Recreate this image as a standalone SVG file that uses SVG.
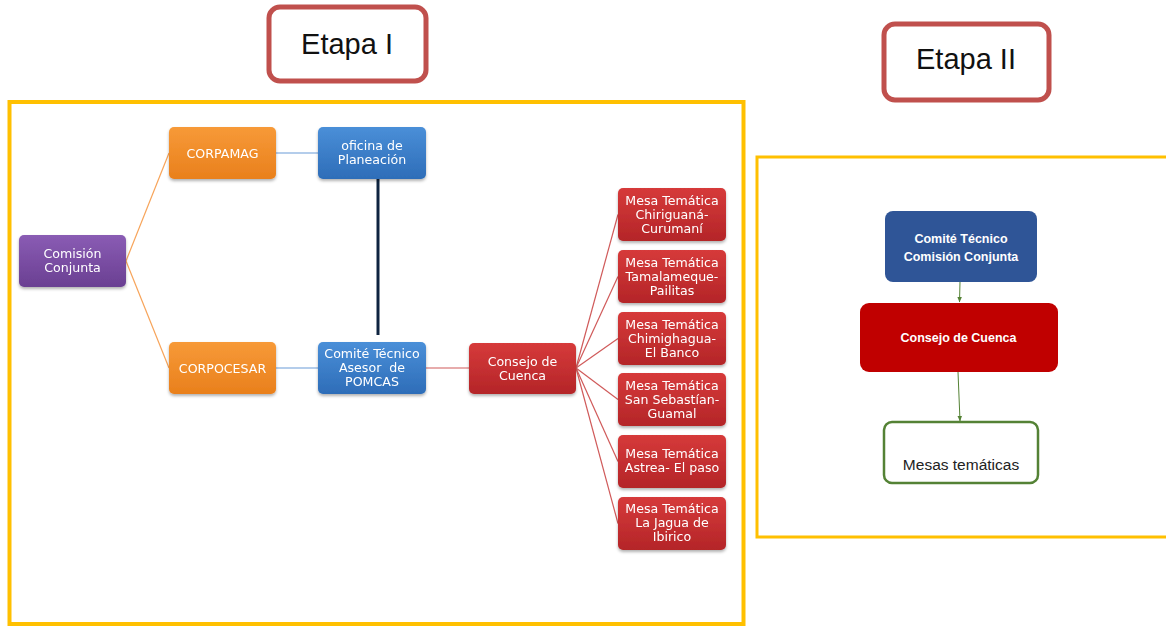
<svg xmlns="http://www.w3.org/2000/svg" width="1166" height="627" viewBox="0 0 1166 627">
<defs>
<linearGradient id="gPur" x1="0" y1="0" x2="0" y2="1"><stop offset="0" stop-color="#8A5CB4"/><stop offset="1" stop-color="#6A3F92"/></linearGradient>
<linearGradient id="gOr" x1="0" y1="0" x2="0" y2="1"><stop offset="0" stop-color="#F79A38"/><stop offset="1" stop-color="#E9801C"/></linearGradient>
<linearGradient id="gBl" x1="0" y1="0" x2="0" y2="1"><stop offset="0" stop-color="#4A8FD8"/><stop offset="1" stop-color="#2E6DB8"/></linearGradient>
<linearGradient id="gRd" x1="0" y1="0" x2="0" y2="1"><stop offset="0" stop-color="#D63A3A"/><stop offset="1" stop-color="#B42528"/></linearGradient>
<filter id="sh" x="-10%" y="-10%" width="120%" height="130%"><feDropShadow dx="0" dy="2" stdDeviation="1.5" flood-color="#000" flood-opacity="0.3"/></filter>
<marker id="arr" viewBox="0 0 10 10" refX="9" refY="5" markerWidth="6" markerHeight="6" orient="auto"><path d="M0,1 L10,5 L0,9 z" fill="#548235"/></marker>
</defs>
<style>
.frame{fill:none;stroke:#FFC000}
.etapa{fill:#fff;stroke:#C0504D;stroke-width:5}
.etxt{font-family:"Liberation Sans",Arial,sans-serif;font-size:29px;fill:#111;text-anchor:middle}
.n{filter:url(#sh)}
.t{font-family:"DejaVu Sans",Verdana,sans-serif;font-size:12.6px;fill:#fff;text-anchor:middle}
.t2{font-family:"Liberation Sans",Arial,sans-serif;font-size:12.5px;font-weight:bold;fill:#fff;text-anchor:middle}
.c{fill:none;stroke-width:1.2}
</style>
<rect width="1166" height="627" fill="#fff"/>
<rect class="frame" x="9.5" y="102" width="734" height="522" stroke-width="4"/>
<path class="frame" d="M1166,157 L757,157 L757,537 L1166,537" stroke-width="3"/>
<g id="etapa1"><rect class="etapa" x="269" y="7" width="157" height="74" rx="11"/><text class="etxt" x="347" y="54">Etapa I</text></g>
<g id="etapa2"><rect class="etapa" x="884" y="24" width="165" height="76" rx="11"/><text class="etxt" x="966" y="69">Etapa II</text></g>
<g id="connectors">
<line class="c" x1="126" y1="261" x2="169" y2="153" stroke="#F7A45A"/>
<line class="c" x1="126" y1="261" x2="169" y2="368" stroke="#F7A45A"/>
<line class="c" x1="276" y1="153" x2="318" y2="153" stroke="#6A9BD8" stroke-width="1.6"/>
<line class="c" x1="276" y1="368" x2="318" y2="368" stroke="#6A9BD8" stroke-width="1.6"/>
<line x1="378" y1="177" x2="378" y2="335" stroke="#0F2440" stroke-width="3"/>
<line class="c" x1="426" y1="368" x2="469" y2="368" stroke="#D05A5A" stroke-width="1.6"/>
<g stroke="#D05A5A" stroke-width="1.2">
<line x1="576" y1="368" x2="618" y2="214.5"/>
<line x1="576" y1="368" x2="618" y2="276.5"/>
<line x1="576" y1="368" x2="618" y2="338.5"/>
<line x1="576" y1="368" x2="618" y2="399.5"/>
<line x1="576" y1="368" x2="618" y2="461.5"/>
<line x1="576" y1="368" x2="618" y2="523.5"/>
</g>
<line x1="960" y1="282" x2="959.5" y2="302" stroke="#548235" stroke-width="1" marker-end="url(#arr)"/>
<line x1="958" y1="372" x2="960" y2="421" stroke="#548235" stroke-width="1" marker-end="url(#arr)"/>
</g>
<g id="comision" class="n"><rect x="19" y="235" width="107" height="52" rx="5" fill="url(#gPur)"/><text class="t"><tspan x="72.5" y="258">Comisión</tspan><tspan x="72.5" y="272">Conjunta</tspan></text></g>
<g id="corpamag" class="n"><rect x="169" y="127" width="107" height="52" rx="5" fill="url(#gOr)"/><text class="t" x="222.5" y="157.5">CORPAMAG</text></g>
<g id="corpocesar" class="n"><rect x="169" y="342" width="107" height="52" rx="5" fill="url(#gOr)"/><text class="t" x="222.5" y="372.5">CORPOCESAR</text></g>
<g id="oficina" class="n"><rect x="318" y="127" width="108" height="52" rx="5" fill="url(#gBl)"/><text class="t"><tspan x="372" y="150">oficina de</tspan><tspan x="372" y="164">Planeación</tspan></text></g>
<g id="comite" class="n"><rect x="318" y="342" width="108" height="52" rx="5" fill="url(#gBl)"/><text class="t"><tspan x="372" y="358">Comité Técnico</tspan><tspan x="372" y="372" xml:space="preserve">Asesor  de</tspan><tspan x="372" y="386">POMCAS</tspan></text></g>
<g id="consejo" class="n"><rect x="469" y="343" width="107" height="51" rx="5" fill="url(#gRd)"/><text class="t"><tspan x="522.5" y="366">Consejo de</tspan><tspan x="522.5" y="380">Cuenca</tspan></text></g>
<g id="mesa1" class="n"><rect x="618" y="188" width="108" height="53" rx="5" fill="url(#gRd)"/><text class="t"><tspan x="672" y="205">Mesa Temática</tspan><tspan x="672" y="219">Chiriguaná-</tspan><tspan x="672" y="233">Curumaní</tspan></text></g>
<g id="mesa2" class="n"><rect x="618" y="250" width="108" height="53" rx="5" fill="url(#gRd)"/><text class="t"><tspan x="672" y="267">Mesa Temática</tspan><tspan x="672" y="281">Tamalameque-</tspan><tspan x="672" y="295">Pailitas</tspan></text></g>
<g id="mesa3" class="n"><rect x="618" y="312" width="108" height="53" rx="5" fill="url(#gRd)"/><text class="t"><tspan x="672" y="329">Mesa Temática</tspan><tspan x="672" y="343">Chimighagua-</tspan><tspan x="672" y="357">El Banco</tspan></text></g>
<g id="mesa4" class="n"><rect x="618" y="373" width="108" height="53" rx="5" fill="url(#gRd)"/><text class="t"><tspan x="672" y="390">Mesa Temática</tspan><tspan x="672" y="404">San Sebastían-</tspan><tspan x="672" y="418">Guamal</tspan></text></g>
<g id="mesa5" class="n"><rect x="618" y="435" width="108" height="53" rx="5" fill="url(#gRd)"/><text class="t"><tspan x="672" y="458">Mesa Temática</tspan><tspan x="672" y="472">Astrea- El paso</tspan></text></g>
<g id="mesa6" class="n"><rect x="618" y="497" width="108" height="53" rx="5" fill="url(#gRd)"/><text class="t"><tspan x="672" y="513">Mesa Temática</tspan><tspan x="672" y="527">La Jagua de</tspan><tspan x="672" y="541">Ibirico</tspan></text></g>
<g id="comite2"><rect x="885" y="211" width="152" height="71" rx="8" fill="#2F5597"/><text class="t2"><tspan x="961" y="242.5">Comité Técnico</tspan><tspan x="961" y="260.5">Comisión Conjunta</tspan></text></g>
<g id="consejo2"><rect x="860" y="303" width="198" height="69" rx="9" fill="#C00000"/><text class="t2" x="958.5" y="342">Consejo de Cuenca</text></g>
<g id="mesas2"><rect x="884" y="422" width="154" height="61" rx="8" fill="#fff" stroke="#548235" stroke-width="2.5"/><text x="961" y="470" font-family="Liberation Sans, Arial, sans-serif" font-size="15.5" fill="#222" text-anchor="middle">Mesas temáticas</text></g>
</svg>
